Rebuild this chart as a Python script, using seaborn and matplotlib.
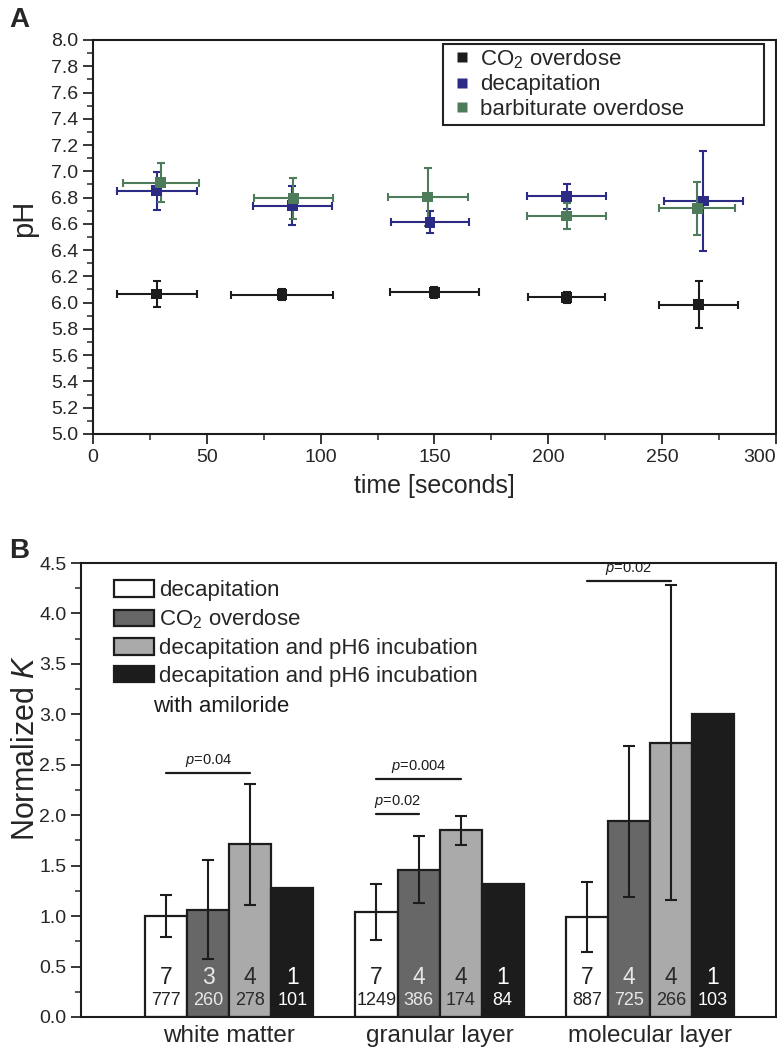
import numpy as np
import pandas as pd
import matplotlib
matplotlib.use("Agg")
import matplotlib.pyplot as plt
from matplotlib.ticker import MultipleLocator, FormatStrFormatter
from matplotlib.patches import Patch, Rectangle
import seaborn as sns

# ---------------- Panel A data ----------------
series_a = ["CO$_2$ overdose", "decapitation", "barbiturate overdose"]
co2_t = [28, 83, 150, 208, 266]
co2_ph = [6.065, 6.06, 6.078, 6.04, 5.984]
co2_terr = [17.6, 22.3, 19.7, 17.0, 17.3]
co2_pherr = [0.10, 0.04, 0.04, 0.04, 0.177]

dec_t = [28, 87.5, 148, 208, 268]
dec_ph = [6.852, 6.738, 6.613, 6.81, 6.774]
dec_terr = [17.6, 17.3, 17.3, 17.3, 17.4]
dec_pherr = [0.145, 0.147, 0.083, 0.095, 0.38]

bar_t = [29.8, 88, 147, 208, 265.5]
bar_ph = [6.914, 6.795, 6.805, 6.66, 6.717]
bar_terr = [16.6, 17.3, 17.5, 17.3, 16.7]
bar_pherr = [0.15, 0.156, 0.22, 0.10, 0.20]

# ---------------- Panel B data ----------------
regions = ["white matter", "granular layer", "molecular layer"]
conditions = ["decapitation", "CO$_2$ overdose", "decapitation and pH6 incubation",
              "decapitation and pH6 incubation\nwith amiloride"]
k_decap = [1.00, 1.04, 0.99]
k_co2 = [1.063, 1.46, 1.94]
k_ph6 = [1.71, 1.85, 2.72]
k_amil = [1.283, 1.314, 3.0]
err_decap = [0.205, 0.28, 0.35]
err_co2 = [0.49, 0.335, 0.75]
err_ph6 = [0.60, 0.145, 1.56]
n_animals = [[7, 3, 4, 1], [7, 4, 4, 1], [7, 4, 4, 1]]
n_cells = [[777, 260, 278, 101], [1249, 386, 174, 84], [887, 725, 266, 103]]
pvals = ["0.04", "0.004", "0.02", "0.02"]

sns.set_theme(style="ticks")
plt.rcParams['font.family'] = ['Liberation Sans', 'DejaVu Sans']
plt.rcParams['mathtext.fontset'] = 'custom'
plt.rcParams['mathtext.rm'] = 'Liberation Sans'
plt.rcParams['mathtext.it'] = 'Liberation Sans:italic'

fig = plt.figure(figsize=(7.77, 10.52), dpi=100)
axA = fig.add_axes([0.1197, 0.5875, 0.8790, 0.3745])
axB = fig.add_axes([0.1043, 0.0333, 0.8944, 0.4315])

# ---------------- Panel A ----------------
cols_a = ["#1c1c1c", "#2b2a85", "#4e7b5a"]
dfA = pd.DataFrame({
    "t": co2_t + dec_t + bar_t,
    "ph": co2_ph + dec_ph + bar_ph,
    "series": [series_a[0]] * 5 + [series_a[1]] * 5 + [series_a[2]] * 5,
})
errs = [(co2_t, co2_ph, co2_terr, co2_pherr),
        (dec_t, dec_ph, dec_terr, dec_pherr),
        (bar_t, bar_ph, bar_terr, bar_pherr)]
for (t, p, te, pe), c in zip(errs, cols_a):
    axA.errorbar(t, p, xerr=te, yerr=pe, fmt="none", ecolor=c, elinewidth=1.5,
                 capsize=2.7, capthick=1.5, zorder=2)
sns.scatterplot(data=dfA, x="t", y="ph", hue="series", palette=cols_a, marker="s",
                s=60, edgecolor="none", ax=axA, zorder=3)
axA.set_xlim(0, 300)
axA.set_ylim(5.0, 8.0)
axA.xaxis.set_major_locator(MultipleLocator(50))
axA.xaxis.set_minor_locator(MultipleLocator(25))
axA.yaxis.set_major_locator(MultipleLocator(0.2))
axA.yaxis.set_minor_locator(MultipleLocator(0.1))
axA.yaxis.set_major_formatter(FormatStrFormatter("%.1f"))
axA.set_xlabel("time [seconds]", fontsize=18, labelpad=6)
axA.set_ylabel("pH", fontsize=21)
axA.yaxis.set_label_coords(-0.080, 0.548)
leg = axA.legend(loc="upper left", fontsize=16, frameon=False,
                 handletextpad=0.5, borderpad=0, borderaxespad=0,
                 labelspacing=0.17, handlelength=0.6, markerscale=0.85,
                 bbox_to_anchor=(0.531, 0.982))
axA.add_patch(Rectangle((0.5125, 0.784), 0.4695, 0.206, transform=axA.transAxes,
                        fill=False, edgecolor="#222222", linewidth=1.5, zorder=5))
fig.text(0.012, 0.993, "A", fontsize=20, fontweight="bold", va="top", ha="left")

# ---------------- Panel B ----------------
cols_b = ["#ffffff", "#676767", "#aaaaaa", "#1c1c1c"]
txt_cols = ["#222222", "#e8e8e8", "#2a2a2a", "#ffffff"]
vals = [k_decap, k_co2, k_ph6, k_amil]
dfB = pd.DataFrame({
    "region": regions * 4,
    "condition": [c for c in conditions for _ in regions],
    "K": [v for arr in vals for v in arr],
})
sns.barplot(data=dfB, x="region", y="K", hue="condition", palette=cols_b,
            errorbar=None, width=0.8, edgecolor="#1c1c1c", linewidth=1.6,
            ax=axB, legend=False, saturation=1)
bar_containers = list(axB.containers)
err_all = [err_decap, err_co2, err_ph6, None]
centers = []
for ci, cont in enumerate(bar_containers):
    row = []
    for ri, bar in enumerate(cont.patches):
        xc = bar.get_x() + bar.get_width() / 2
        row.append(xc)
        if err_all[ci] is not None:
            axB.errorbar([xc], [vals[ci][ri]], yerr=[err_all[ci][ri]], fmt="none",
                         ecolor="#1c1c1c", elinewidth=1.5, capsize=4.5, capthick=1.5, zorder=4)
        axB.text(xc, 0.39, str(n_animals[ri][ci]), ha="center", va="center",
                 fontsize=16.5, color=txt_cols[ci], zorder=5)
        axB.text(xc, 0.165, str(n_cells[ri][ci]), ha="center", va="center",
                 fontsize=13, color=txt_cols[ci], zorder=5)
    centers.append(row)

# significance brackets: (start condition, end condition, region, y, label)
brackets = [(0, 2, 0, 2.42, pvals[0]), (0, 2, 1, 2.36, pvals[1]),
            (0, 1, 1, 2.01, pvals[2]), (0, 2, 2, 4.32, pvals[3])]
for c0, c1, r, y, lab in brackets:
    x0, x1 = centers[c0][r], centers[c1][r]
    axB.plot([x0, x1], [y, y], color="#1c1c1c", lw=1.6)
    axB.text((x0 + x1) / 2, y + 0.04, f"$p$=" + lab, ha="center", va="bottom",
             fontsize=10.5, color="#1c1c1c")

axB.set_xlim(-0.705, 2.6)
axB.set_ylim(0, 4.5)
axB.yaxis.set_major_locator(MultipleLocator(0.5))
axB.yaxis.set_minor_locator(MultipleLocator(0.25))
axB.yaxis.set_major_formatter(FormatStrFormatter("%.1f"))
axB.set_xlabel("")
axB.set_ylabel("Normalized $\\mathit{K}$", fontsize=22)
axB.yaxis.set_label_coords(-0.058, 0.593)
axB.tick_params(axis="x", length=0, labelsize=17.5, pad=6)
handles = [Patch(facecolor=c, edgecolor="#1c1c1c", linewidth=1.6) for c in cols_b]
leg_labels = [c.split("\n")[0] for c in conditions]
legB = axB.legend(handles, leg_labels, loc="upper left", fontsize=16, frameon=False,
                  handlelength=1.8, handleheight=0.77, handletextpad=0.22,
                  labelspacing=0.3, borderpad=0, borderaxespad=0,
                  bbox_to_anchor=(0.0475, 0.9626))
axB.text(0.1036, 0.683, conditions[3].split("\n")[1], transform=axB.transAxes,
         fontsize=16, ha="left", va="center", color="#1c1c1c")

for ax in (axA, axB):
    for s in ax.spines.values():
        s.set_linewidth(1.5)
        s.set_color("#1c1c1c")
    ax.tick_params(axis="y", which="major", length=7, width=1.3, labelsize=14, direction="out")
    ax.tick_params(axis="y", which="minor", length=4, width=1.1, direction="out")
axA.tick_params(axis="x", which="major", length=7, width=1.3, labelsize=14, direction="out")
axA.tick_params(axis="x", which="minor", length=4, width=1.1, direction="out")

fig.text(0.012, 0.489, "B", fontsize=20, fontweight="bold", va="top", ha="left")

fig.canvas.draw()
for lab in axA.get_xticklabels():
    if lab.get_text() == "300":
        lab.set_horizontalalignment("right")

fig.savefig("out.png", dpi=100)
